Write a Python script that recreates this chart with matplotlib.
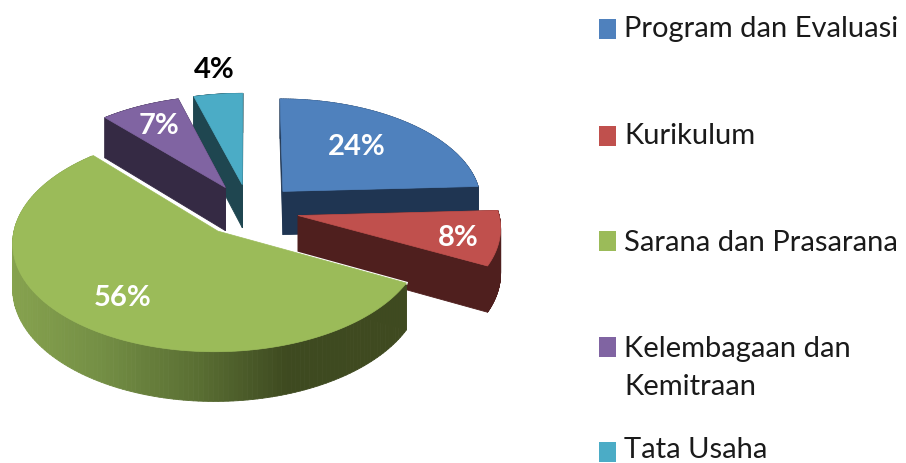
import numpy as np
import matplotlib
matplotlib.use('Agg')
import matplotlib.pyplot as plt
from matplotlib.collections import PolyCollection
from matplotlib.colors import LinearSegmentedColormap
from matplotlib.patches import Polygon, Rectangle

plt.rcParams['font.family'] = ['Lato', 'DejaVu Sans']

# Datos (las etiquetas van redondeadas)
categorias = ['Program dan Evaluasi', 'Kurikulum', 'Sarana dan Prasarana',
              'Kelembagaan dan\nKemitraan', 'Tata Usaha']
valores = [24.2, 8.3, 55.8, 7.2, 4.4]

colores = ['#4f81bd', '#c0504d', '#9bbb59', '#8064a2', '#4bacc6']
oscuros = ['#1f3552', '#4f1f1e', None, '#352a44', '#1f4650']

# Camara del pastel 3D (pixeles)
CX, CY = 249, 210
R, Q = 200, 104.7
P = 0.096
PROF = 44
EXPLOSION = 0.25

etiquetas_xy = [(357, 147), (458, 238), (123, 298), (159, 126), (214, 70)]
etiquetas_color = ['white', 'white', 'white', 'white', 'black']
leyenda_y = [29, 136, 241, 347, 452]
leyenda_texto_y = [29, 136, 243, 368, 450]

verde_lado = LinearSegmentedColormap.from_list(
    'verde_lado',
    [(0.0, '#86a24e'), (0.22, '#748f45'), (0.47, '#5a6f33'),
     (0.70, '#3e4a20'), (1.0, '#3f4a20')])


def proyectar(u, v, z=0.0):
    s = 1 / (1 + P * v)
    return CX + R * u * s, CY + (-Q * v + z * PROF) * s


fig = plt.figure(figsize=(9.06, 4.63), dpi=100)
ax = fig.add_axes([0, 0, 1, 1])

total = sum(valores)
limites = np.concatenate([[0], np.cumsum(valores)]) / total * 2 * np.pi
piezas = []
for i in range(len(valores)):
    t = np.linspace(limites[i], limites[i + 1], 160)
    medio = (limites[i] + limites[i + 1]) / 2
    du, dv = EXPLOSION * np.sin(medio), EXPLOSION * np.cos(medio)
    u = np.concatenate([[du], du + np.sin(t), [du]])
    v = np.concatenate([[dv], dv + np.cos(t), [dv]])
    piezas.append((i, u, v))

# De atras hacia adelante: tata usaha, kelembagaan, program, kurikulum, sarana
for i, u, v in [piezas[k] for k in (4, 3, 0, 1, 2)]:
    xa, ya = proyectar(u, v)
    xb, yb = proyectar(u, v, 1)
    caras = [[(xa[k], ya[k]), (xa[k + 1], ya[k + 1]),
              (xb[k + 1], yb[k + 1]), (xb[k], yb[k])]
             for k in range(len(xa) - 1)]
    if oscuros[i] is None:
        tonos = [verde_lado((np.clip((c[0][0] + c[1][0]) / 2, 12, 405) - 12) / 393)
                 for c in caras]
        # filo blanco solo en los dos cortes de la porcion
        ax.add_collection(PolyCollection(caras, facecolors=tonos, edgecolors=tonos, linewidths=0.6))
        ax.plot([xa[1], xa[0], xa[-2]], [ya[1], ya[0], ya[-2]], color='white', lw=2, zorder=2)
        ax.add_patch(Polygon(np.column_stack([xa, ya]), closed=True, facecolor=colores[i],
                             edgecolor=colores[i], linewidth=0.5, zorder=3))
    else:
        tonos = [oscuros[i]] * len(caras)
        ax.add_collection(PolyCollection(caras, facecolors=tonos, edgecolors=tonos, linewidths=0.6))
        ax.add_patch(Polygon(np.column_stack([xa, ya]), closed=True, facecolor=colores[i],
                             edgecolor=colores[i], linewidth=0.5))

for valor, (x, y), c in zip(valores, etiquetas_xy, etiquetas_color):
    ax.text(x, y, f'{valor:.0f}%', color=c, fontsize=21, fontweight='bold',
            ha='center', va='center', zorder=5)

for nombre, color, y, yt in zip(categorias, colores, leyenda_y, leyenda_texto_y):
    ax.add_patch(Rectangle((599, y - 10), 17, 20, facecolor=color, edgecolor='none'))
    ax.text(624, yt, nombre, fontsize=21, color='#1a1a1a', ha='left', va='center',
            linespacing=1.6)

ax.set_xlim(0, 906)
ax.set_ylim(463, 0)
ax.axis('off')

fig.savefig('out.png', dpi=100)
